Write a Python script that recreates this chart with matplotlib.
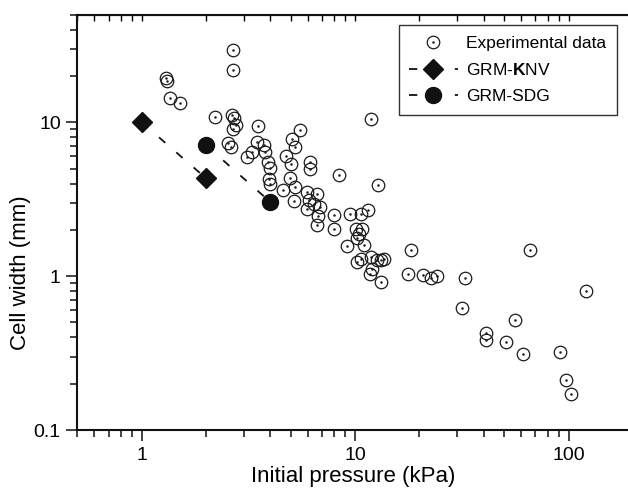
import matplotlib
matplotlib.use("Agg")
import matplotlib.pyplot as plt
from matplotlib.ticker import LogLocator, NullFormatter, FixedLocator, FixedFormatter

plt.rcParams['font.family'] = ['Liberation Sans', 'DejaVu Sans']
plt.rcParams['mathtext.fontset'] = 'custom'
plt.rcParams['mathtext.rm'] = 'Liberation Sans'
plt.rcParams['mathtext.bf'] = 'Liberation Sans:bold'
plt.rcParams['lines.scale_dashes'] = False

# experimental data (kPa, mm)
exp_p = [1.30, 1.31, 1.36, 1.51, 2.20, 2.69, 2.69, 2.65, 2.70, 2.76,
         2.67, 3.50, 2.53, 2.61, 3.11, 3.28, 3.46, 3.76, 3.79, 3.90,
         3.97, 3.93, 3.97, 4.59, 5.05, 5.25, 5.50, 4.76, 5.03, 4.95,
         5.25, 5.17, 6.12, 6.12, 6.63, 5.95, 6.05, 5.95, 6.45, 6.88,
         6.70, 6.65, 8.00, 8.00, 8.38, 9.50, 10.6, 11.5, 10.1, 10.8,
         10.4, 10.2, 9.20, 11.0, 10.6, 10.2, 11.9, 12.7, 13.2, 13.6,
         12.0, 11.8, 13.2, 11.9, 12.8, 18.2, 17.6, 20.9, 22.6, 24.3,
         32.7, 31.6, 66.3, 121, 56.4, 41.1, 41.1, 51.0, 61.3, 91.2,
         96.9, 103]
exp_w = [19.5, 18.6, 14.3, 13.3, 10.8, 29.6, 21.8, 11.1, 10.6, 9.6,
         9.1, 9.4, 7.3, 6.9, 5.95, 6.4, 7.45, 7.1, 6.4, 5.5,
         5.05, 4.3, 4.0, 3.62, 7.84, 6.9, 8.87, 6.0, 5.35, 4.35,
         3.8, 3.06, 5.52, 4.96, 3.4, 3.53, 3.11, 2.75, 2.96, 2.82,
         2.45, 2.14, 2.5, 2.03, 4.53, 2.55, 2.52, 2.7, 2.03, 2.02,
         1.89, 1.76, 1.56, 1.59, 1.29, 1.24, 1.33, 1.27, 1.28, 1.30,
         1.12, 1.04, 0.92, 10.5, 3.92, 1.48, 1.03, 1.01, 0.97, 1.0,
         0.97, 0.62, 1.49, 0.80, 0.52, 0.425, 0.384, 0.375, 0.312, 0.319,
         0.211, 0.171]

knv_p = [1, 2]
knv_w = [10, 4.33]
sdg_p = [2, 4]
sdg_w = [7.1, 3.04]

fig = plt.figure(figsize=(6.28, 4.92), dpi=100)
ax = fig.add_axes([0.1234, 0.126, 0.8766, 0.844])
ax.set_xscale('log')
ax.set_yscale('log')

h_circ, = ax.plot(exp_p, exp_w, 'o', ms=9, mfc='none', mec='#1a1a1a', mew=0.9, ls='none')
h_dot, = ax.plot(exp_p, exp_w, '.', ms=1.6, color='#1a1a1a', ls='none')
h_knv, = ax.plot(knv_p, knv_w, color='#111111', lw=1.3, dashes=(6, 10.5),
                 marker='D', ms=10, mfc='#111111', mec='#111111')
h_sdg, = ax.plot(sdg_p, sdg_w, color='#111111', lw=1.3, dashes=(6, 10.5),
                 marker='o', ms=11.5, mfc='#111111', mec='#111111')

ax.set_xlim(0.5, 190)
ax.set_ylim(0.1, 50)

ax.xaxis.set_major_locator(FixedLocator([1, 10, 100]))
ax.xaxis.set_major_formatter(FixedFormatter(['1', '10', '100']))
ax.xaxis.set_minor_locator(LogLocator(base=10, subs=range(2, 10), numticks=20))
ax.xaxis.set_minor_formatter(NullFormatter())
ax.yaxis.set_major_locator(FixedLocator([0.1, 1, 10]))
ax.yaxis.set_major_formatter(FixedFormatter(['0.1', '1', '10']))
ax.yaxis.set_minor_locator(LogLocator(base=10, subs=range(2, 10), numticks=20))
ax.yaxis.set_minor_formatter(NullFormatter())

ax.tick_params(which='major', length=8, width=1.1, labelsize=14, pad=4, color='#111111')
ax.tick_params(which='minor', length=5, width=1.1, color='#111111')
ax.tick_params(axis='x', which='both', top=False, direction='out')
ax.secondary_xaxis('top').tick_params(which='both', direction='in', labeltop=False, length=4, width=1.0)

for side in ['left', 'bottom', 'top']:
    ax.spines[side].set_linewidth(1.5)
    ax.spines[side].set_color('#111111')
ax.spines['right'].set_visible(False)

ax.set_xlabel('Initial pressure (kPa)', fontsize=16)
ax.set_ylabel('Cell width (mm)', fontsize=16)
ax.xaxis.set_label_coords(0.5, -0.113)
ax.xaxis.label.set_va('center')
ax.yaxis.set_label_coords(-0.103, 0.38)
ax.yaxis.label.set_va('center')

leg = ax.legend([(h_circ, h_dot), h_knv, h_sdg],
                ['Experimental data', 'GRM-$\\mathbf{K}$NV', 'GRM-SDG'],
                loc='upper right', bbox_to_anchor=(0.980, 0.975), borderaxespad=0,
                fontsize=12.5, handlelength=2.8, handletextpad=0.5, labelspacing=0.65,
                fancybox=False, edgecolor='#333333', framealpha=1, borderpad=0.6)
leg.get_frame().set_linewidth(1.0)

fig.savefig('out.png', dpi=100)
